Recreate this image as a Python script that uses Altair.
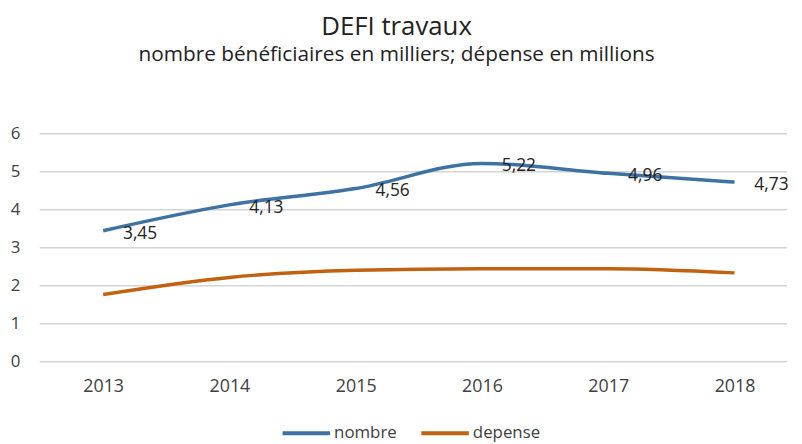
import altair as alt
import pandas as pd

years = ["2013", "2014", "2015", "2016", "2017", "2018"]
nombre = [3.45, 4.13, 4.56, 5.22, 4.96, 4.73]
depense = [1.77, 2.22, 2.41, 2.45, 2.45, 2.34]
nombre_labels = ["3,45", "4,13", "4,56", "5,22", "4,96", "4,73"]
y_ticks = [0, 1, 2, 3, 4, 5, 6]

rows = []
for yr, v in zip(years, nombre):
    rows.append({"annee": yr, "serie": "nombre", "valeur": v})
for yr, v in zip(years, depense):
    rows.append({"annee": yr, "serie": "depense", "valeur": v})
df = pd.DataFrame(rows)
lab = pd.DataFrame({"annee": years, "valeur": nombre, "label": nombre_labels})
grid = pd.DataFrame({"valeur": y_ticks})

FONT = "Open Sans"
W, H = 754, 230
xscale = alt.Scale(type="point", domain=years, range=[64, 701], padding=0)
yscale = alt.Scale(domain=[0, 6], nice=False)

x = alt.X("annee:O", title=None, scale=xscale,
          axis=alt.Axis(labelAngle=0, ticks=False, domain=False, grid=False, labelPadding=16,
                        labelFontSize=18, labelColor="#404040", labelFont=FONT))
y = alt.Y("valeur:Q", title=None, scale=yscale,
          axis=alt.Axis(values=y_ticks, ticks=False, domain=False, grid=False,
                        labelPadding=20, labelFontSize=17, labelColor="#404040",
                        labelFont=FONT, labelOverlap=False))

gridlines = alt.Chart(grid).mark_rule(color="#d4d4d4", strokeWidth=1.6).encode(
    y=y, x=alt.value(0), x2=alt.value(W))

lines = alt.Chart(df).mark_line(strokeWidth=3.5, interpolate="monotone").encode(
    x=x, y=y,
    color=alt.Color("serie:N",
                    scale=alt.Scale(domain=["nombre", "depense"], range=["#3d72a2", "#c0620f"]),
                    legend=alt.Legend(title=None, orient="none", direction="horizontal",
                                      legendX=243, legendY=276, symbolType="stroke",
                                      symbolSize=2300, symbolStrokeWidth=4,
                                      labelFontSize=17, labelColor="#404040", labelFont=FONT,
                                      columnPadding=16, labelOffset=2))
)

texts = alt.Chart(lab).mark_text(align="left", baseline="middle", dx=20, dy=3,
                                 fontSize=17.5, color="#222222", font=FONT).encode(
    x=x, y=y, text="label:N")

chart = alt.layer(gridlines, lines, texts).properties(
    width=W, height=H,
    autosize=alt.AutoSizeParams(type="none"),
    padding={"left": 32, "top": 125, "right": 7, "bottom": 81},
    title=alt.TitleParams("DEFI travaux",
                          subtitle="nombre bénéficiaires en milliers; dépense en millions",
                          anchor="middle", fontSize=26, subtitleFontSize=21,
                          font=FONT, subtitleFont=FONT, fontWeight="normal",
                          color="#222222", subtitleColor="#222222",
                          subtitlePadding=5, offset=60, dx=-17)
).configure_view(stroke=None)

chart.save("out.html", embed_options={"renderer": "svg", "actions": False})
